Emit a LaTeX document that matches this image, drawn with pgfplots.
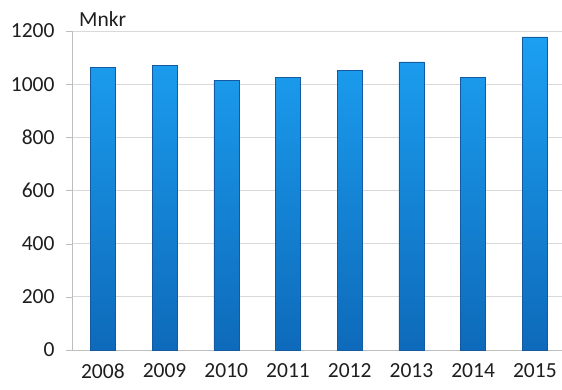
\documentclass[border=0pt]{standalone}
\usepackage{pgfplots}
\pgfplotsset{compat=1.18}
\usepackage{fontspec}
\setmainfont{Carlito}
\definecolor{bartop}{RGB}{28,160,242}
\definecolor{barbot}{RGB}{14,106,186}
\definecolor{baredge}{RGB}{20,90,160}
\definecolor{gridc}{RGB}{217,217,217}
\definecolor{axc}{RGB}{190,190,190}
\definecolor{txt}{RGB}{30,30,30}
\begin{document}
\begin{tikzpicture}
\begin{axis}[
  at={(72bp,40bp)}, anchor=south west,
  scale only axis, width=490bp, height=319bp,
  xmin=-0.5, xmax=7.44, ymin=0, ymax=1200,
  ybar, bar width=25bp,
  xtick={0,...,7},
  xticklabels={2008,2009,2010,2011,2012,2013,2014,2015},
  x tick style={draw=none},
  extra x ticks={-0.5,0.5,1.5,2.5,3.5,4.5,5.5,6.5},
  extra x tick labels={},
  extra x tick style={tick style={draw=axc}, grid=none},
  ytick={0,200,...,1200},
  y tick style={draw=axc},
  tick align=outside, major tick length=6bp,
  xtick pos=bottom, ytick pos=left,
  ymajorgrids, grid style={gridc, line width=0.8pt},
  axis x line*=bottom, axis y line*=left,
  axis line style={axc, line width=0.8pt, -},
  tick label style={font=\fontsize{21.5bp}{25bp}\selectfont, text=txt},
  /pgf/number format/assume math mode=true,
  /pgf/number format/1000 sep={},
  yticklabel style={xshift=-8bp},
  xticklabel style={yshift=-4bp},
  clip=false,
]
\addplot[draw=baredge, line width=0.4pt, top color=bartop, bottom color=barbot]
  coordinates {(0,1063) (1,1071) (2,1015) (3,1025) (4,1053) (5,1084) (6,1025) (7,1178)};
\end{axis}
\node[anchor=base west, text=txt, font=\fontsize{21.5bp}{25bp}\selectfont, inner sep=0pt] at (79bp,363bp) {Mnkr};
\pgfresetboundingbox
\path[use as bounding box] (0,0) rectangle (562bp,390bp);
\end{tikzpicture}
\end{document}
